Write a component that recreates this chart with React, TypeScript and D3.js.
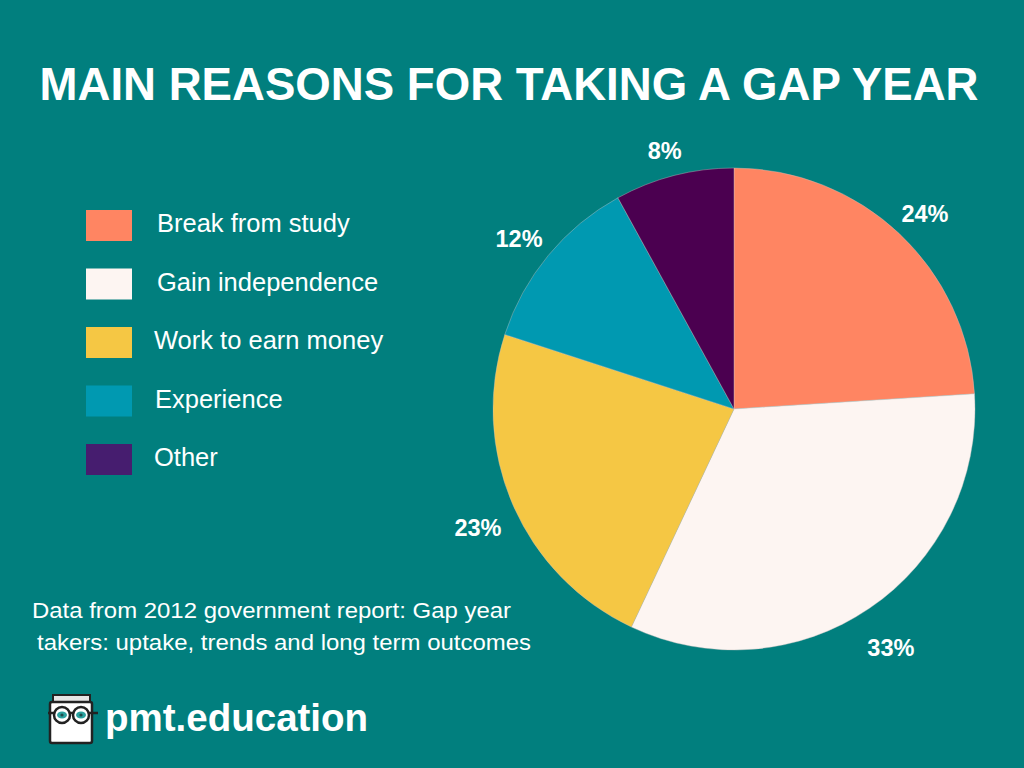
import React, { useEffect, useRef } from 'react';
import * as d3 from 'd3';

const reasons = ['Break from study', 'Gain independence', 'Work to earn money', 'Experience', 'Other'];
const shares = [24, 33, 23, 12, 8];
const sliceColors = ['#ff8562', '#fdf5f2', '#f5c744', '#0099b1', '#4b0050'];
const legendColors = ['#ff8562', '#fdf5f2', '#f5c744', '#0099b1', '#461d6f'];
const legendOffsets = [0, 0, -3, -2, -3];
const footnote = ['Data from 2012 government report: Gap year', 'takers: uptake, trends and long term outcomes'];
const footnoteWidths = [479, 494];

const W = 1024;
const H = 768;
const BG = '#017f7e';
const FONT = 'Liberation Sans, Arial, sans-serif';

export default function App() {
  const ref = useRef<SVGSVGElement | null>(null);

  useEffect(() => {
    const svg = d3.select(ref.current);
    svg.selectAll('*').remove();

    svg.append('rect').attr('width', W).attr('height', H).attr('fill', BG);

    // title
    svg.append('text')
      .attr('x', 509).attr('y', 100)
      .attr('text-anchor', 'middle')
      .attr('font-family', FONT)
      .attr('font-weight', 'bold')
      .attr('font-size', 45.6)
      .attr('fill', '#fff')
      .text('MAIN REASONS FOR TAKING A GAP YEAR');

    // pie
    const cx = 734, cy = 409, r = 241;
    const data = reasons.map((name, i) => ({ name, value: shares[i], color: sliceColors[i] }));
    const pie = d3.pie<any>().value((d) => d.value).sort(null);
    const arc = d3.arc<any>().innerRadius(0).outerRadius(r);
    const labelArc = d3.arc<any>().innerRadius(279).outerRadius(279);
    const g = svg.append('g').attr('transform', `translate(${cx},${cy})`);
    const arcs = pie(data);

    g.selectAll('.slice')
      .data(arcs)
      .join('path')
      .attr('class', 'slice')
      .attr('d', arc)
      .attr('fill', (d) => d.data.color)
      .attr('stroke', '#c9c2bf')
      .attr('stroke-width', 0.4);

    // labels sit a little lower than the centroid ring, like the original
    g.selectAll('.pct')
      .data(arcs)
      .join('text')
      .attr('class', 'pct')
      .attr('transform', (d) => {
        const [x, y] = labelArc.centroid(d);
        return `translate(${x},${y + 8 + (y < -250 ? 4 : 0)})`;
      })
      .attr('text-anchor', 'middle')
      .attr('dominant-baseline', 'central')
      .attr('font-family', FONT)
      .attr('font-weight', 'bold')
      .attr('font-size', 23.5)
      .attr('fill', '#fff')
      .text((d) => `${d.data.value}%`);

    // legend
    const ly = d3.scaleBand().domain(reasons).range([210, 210 + 58.5 * 5]);
    const leg = svg.selectAll('.leg').data(reasons).join('g').attr('class', 'leg')
      .attr('transform', (d) => `translate(86,${ly(d)})`);
    leg.append('rect')
      .attr('width', 46).attr('height', 31)
      .attr('fill', (d, i) => legendColors[i]);
    leg.append('text')
      .attr('x', (d, i) => 71 + legendOffsets[i])
      .attr('y', 22)
      .attr('font-family', FONT)
      .attr('font-size', 25.5)
      .attr('fill', '#fff')
      .text((d) => d);

    // footnote
    svg.selectAll('.foot').data(footnote).join('text').attr('class', 'foot')
      .attr('x', (d, i) => (i === 0 ? 32 : 37))
      .attr('y', (d, i) => 618 + i * 32)
      .attr('font-family', FONT)
      .attr('font-size', 21.5)
      .attr('fill', '#fff')
      .attr('textLength', (d, i) => footnoteWidths[i])
      .attr('lengthAdjust', 'spacingAndGlyphs')
      .text((d) => d);

    // logo
    const logo = svg.append('g').attr('transform', 'translate(48,693)');
    logo.append('rect').attr('x', 5).attr('y', 2).attr('width', 37).attr('height', 8)
      .attr('fill', '#e6e6e6').attr('stroke', '#222').attr('stroke-width', 2);
    logo.append('rect').attr('x', 2).attr('y', 9).attr('width', 42).attr('height', 41).attr('rx', 2)
      .attr('fill', '#fff').attr('stroke', '#222').attr('stroke-width', 2.5);
    logo.append('line').attr('x1', 0).attr('x2', 50).attr('y1', 20).attr('y2', 20)
      .attr('stroke', '#222').attr('stroke-width', 2.5);
    [14, 33].forEach((ex) => {
      logo.append('circle').attr('cx', ex).attr('cy', 22).attr('r', 8)
        .attr('fill', '#fff').attr('stroke', '#222').attr('stroke-width', 2.5);
      logo.append('ellipse').attr('cx', ex).attr('cy', 22).attr('rx', 5).attr('ry', 3.5)
        .attr('fill', '#2aa19f');
      logo.append('circle').attr('cx', ex).attr('cy', 22).attr('r', 1.6).attr('fill', '#1c4b4a');
    });
    svg.append('text')
      .attr('x', 105).attr('y', 731)
      .attr('font-family', FONT)
      .attr('font-weight', 'bold')
      .attr('font-size', 38.5)
      .attr('fill', '#fff')
      .text('pmt.education');
  }, []);

  return (
    <svg ref={ref} width={W} height={H} style={{ position: 'absolute', left: 0, top: 0, display: 'block' }} />
  );
}
